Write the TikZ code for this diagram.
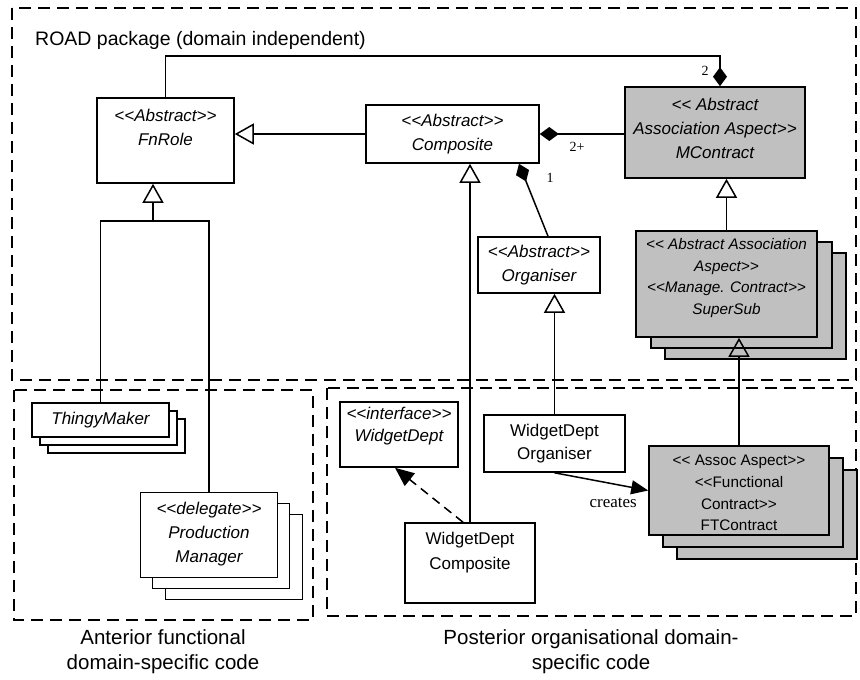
\documentclass[tikz,border=0pt]{standalone}
\usepackage{fontspec}
\setmainfont{Liberation Sans}
\newfontfamily\seriffont{Liberation Serif}
\usetikzlibrary{arrows.meta}
\newcommand\stl{<{}<}
\newcommand\stg{>{}>}
\definecolor{boxgray}{HTML}{C0C0C0}
\tikzset{
  box/.style={draw, line width=1.6pt, inner sep=0pt, fill=white},
  gbox/.style={box, fill=boxgray},
  itxt/.style={align=center, inner sep=0pt, font=\itshape\fontsize{17}{24}\selectfont},
  utxt/.style={align=center, inner sep=0pt, font=\fontsize{17}{23}\selectfont},
  stxt/.style={align=center, inner sep=0pt, font=\itshape\fontsize{15.3}{21.5}\selectfont},
  ftxt/.style={align=center, inner sep=0pt, font=\fontsize{15.3}{21.7}\selectfont},
  conn/.style={line width=1.5pt},
  gen/.style={conn, -{Triangle[open, length=19pt, width=21pt, line width=1.5pt]}},
  compo/.style={conn, {Diamond[length=19pt, width=14pt]}-},
  dep/.style={conn, -{Triangle[length=17pt, width=14pt]}},
  real/.style={conn, dashed, dash pattern=on 9pt off 6pt, -{Triangle[length=19pt, width=16pt]}},
  pkg/.style={line width=1.5pt, dash pattern=on 12pt off 7pt},
  mult/.style={inner sep=0pt, font=\seriffont\fontsize{14}{16}\selectfont},
}
\begin{document}
\begin{tikzpicture}[x=1pt, y=-1pt]
\useasboundingbox (0,0) rectangle (860,680);
% packages
\draw[pkg] (12,8) rectangle (856,380);
\draw[pkg] (14,390) rectangle (313,620);
\draw[pkg] (327,388) rectangle (856,616);
\node[anchor=west, inner sep=0pt, font=\fontsize{19.5}{22}\selectfont] (title) at (35,40) {ROAD package (domain independent)};
\node[align=center, inner sep=0pt, font=\fontsize{20.5}{25}\selectfont] (antlbl) at (163,652) {Anterior functional\\domain-specific code};
\node[align=center, inner sep=0pt, font=\fontsize{20.5}{25}\selectfont] (postlbl) at (591,652) {Posterior organisational domain-\\specific code};
% FnRole
\node[box, minimum width=137pt, minimum height=85pt] (fnrole) at (165.5,140.5) {};
\node[itxt] (fnrolet) at (165.5,127) {\stl Abstract\stg\\FnRole};
% Composite
\node[box, minimum width=173pt, minimum height=58pt] (comp) at (452.5,134) {};
\node[itxt] (compt) at (452.5,134.5) {\stl Abstract\stg\\Composite};
% MContract
\node[gbox, minimum width=180pt, minimum height=91pt] (mcon) at (715,132.5) {};
\node[itxt] (mcont) at (715,128.5) {\stl{} Abstract\\Association Aspect\stg\\MContract};
% Organiser
\node[box, minimum width=122pt, minimum height=56pt] (org) at (539,265) {};
\node[itxt] (orgt) at (539,265.5) {\stl Abstract\stg\\Organiser};
% SuperSub stack
\node[gbox, minimum width=181pt, minimum height=106pt] (ssb2) at (755.5,306) {};
\node[gbox, minimum width=181pt, minimum height=106pt] (ssb1) at (741.5,295) {};
\node[gbox, minimum width=181pt, minimum height=106pt] (ssf) at (726.5,284) {};
\node[stxt] (ssft) at (726.5,278) {\stl{} Abstract Association\\Aspect\stg\\\stl Manage. Contract\stg\\SuperSub};
% ThingyMaker stack
\node[box, minimum width=137pt, minimum height=34pt] (thb2) at (116.5,436) {};
\node[box, minimum width=137pt, minimum height=34pt] (thb1) at (108.5,428) {};
\node[box, minimum width=137pt, minimum height=34pt] (thf) at (100.5,420) {};
\node[itxt] (thft) at (100.5,420) {ThingyMaker};
% Production Manager stack
\node[box, minimum width=137pt, minimum height=85pt] (pmb2) at (234,557) {};
\node[box, minimum width=137pt, minimum height=85pt] (pmb1) at (221,546) {};
\node[box, minimum width=137pt, minimum height=85pt] (pmf) at (209,535) {};
\node[itxt] (pmft) at (209,534) {\stl delegate\stg\\Production\\Manager};
% interface WidgetDept
\node[box, minimum width=118pt, minimum height=65pt] (iface) at (399,434.5) {};
\node[itxt, font=\itshape\fontsize{17}{22}\selectfont] (ifacet) at (399,426.5) {\stl interface\stg\\WidgetDept};
% WidgetDept Organiser
\node[box, minimum width=141pt, minimum height=57pt] (wdorg) at (554.5,443.5) {};
\node[utxt] (wdorgt) at (554.5,444) {WidgetDept\\Organiser};
% WidgetDept Composite
\node[box, minimum width=130pt, minimum height=80pt] (wdcomp) at (470,563) {};
\node[utxt, font=\fontsize{17}{25}\selectfont] (wdcompt) at (470,553) {WidgetDept\\Composite};
% FTContract stack
\node[gbox, minimum width=180pt, minimum height=89pt] (ftb2) at (767,514.5) {};
\node[gbox, minimum width=180pt, minimum height=89pt] (ftb1) at (753,502.5) {};
\node[gbox, minimum width=180pt, minimum height=89pt] (ftc) at (739,490.5) {};
\node[ftxt] (ftct) at (739,493) {\stl{} Assoc Aspect\stg\\\stl Functional\\Contract\stg\\FTContract};
% connectors
\draw[compo] ([xshift=5pt]mcon.north) -- ++(0,-30) -| (fnrole.north);
\node[mult] (m2) at (705,71) {2};
\draw[gen] (comp.west) -- (comp.west -| fnrole.east);
\draw[compo] (comp.east) -- (comp.east -| mcon.west);
\node[mult] (m2p) at (577,147) {2+};
\draw[compo] ([xshift=66.5pt]comp.south) -- ([xshift=9pt]org.north);
\node[mult] (m1) at (550,178) {1};
\draw[gen] (ssf.north) -- (ssf.north |- mcon.south);
\draw[gen] (ftc.north) -- (ftc.north |- ssf.south);
\draw[gen] (wdorg.north) -- (wdorg.north |- org.south);
\draw[gen] (wdcomp.north) -- (wdcomp.north |- comp.south);
\coordinate (fj) at (153,221);
\draw[gen] (fj) -- (fj |- fnrole.south);
\draw[conn] (thf.north) -- (thf.north |- fj) -- (pmf.north |- fj) -- (pmf.north);
\draw[dep] (wdorg.south) -- (ftc.west);
\node[mult, font=\seriffont\fontsize{17}{19}\selectfont, anchor=east] (creates) at (637,503) {creates};
\draw[real] ([xshift=-7pt]wdcomp.north) -- ([xshift=-4pt]iface.south);
\end{tikzpicture}
\end{document}
